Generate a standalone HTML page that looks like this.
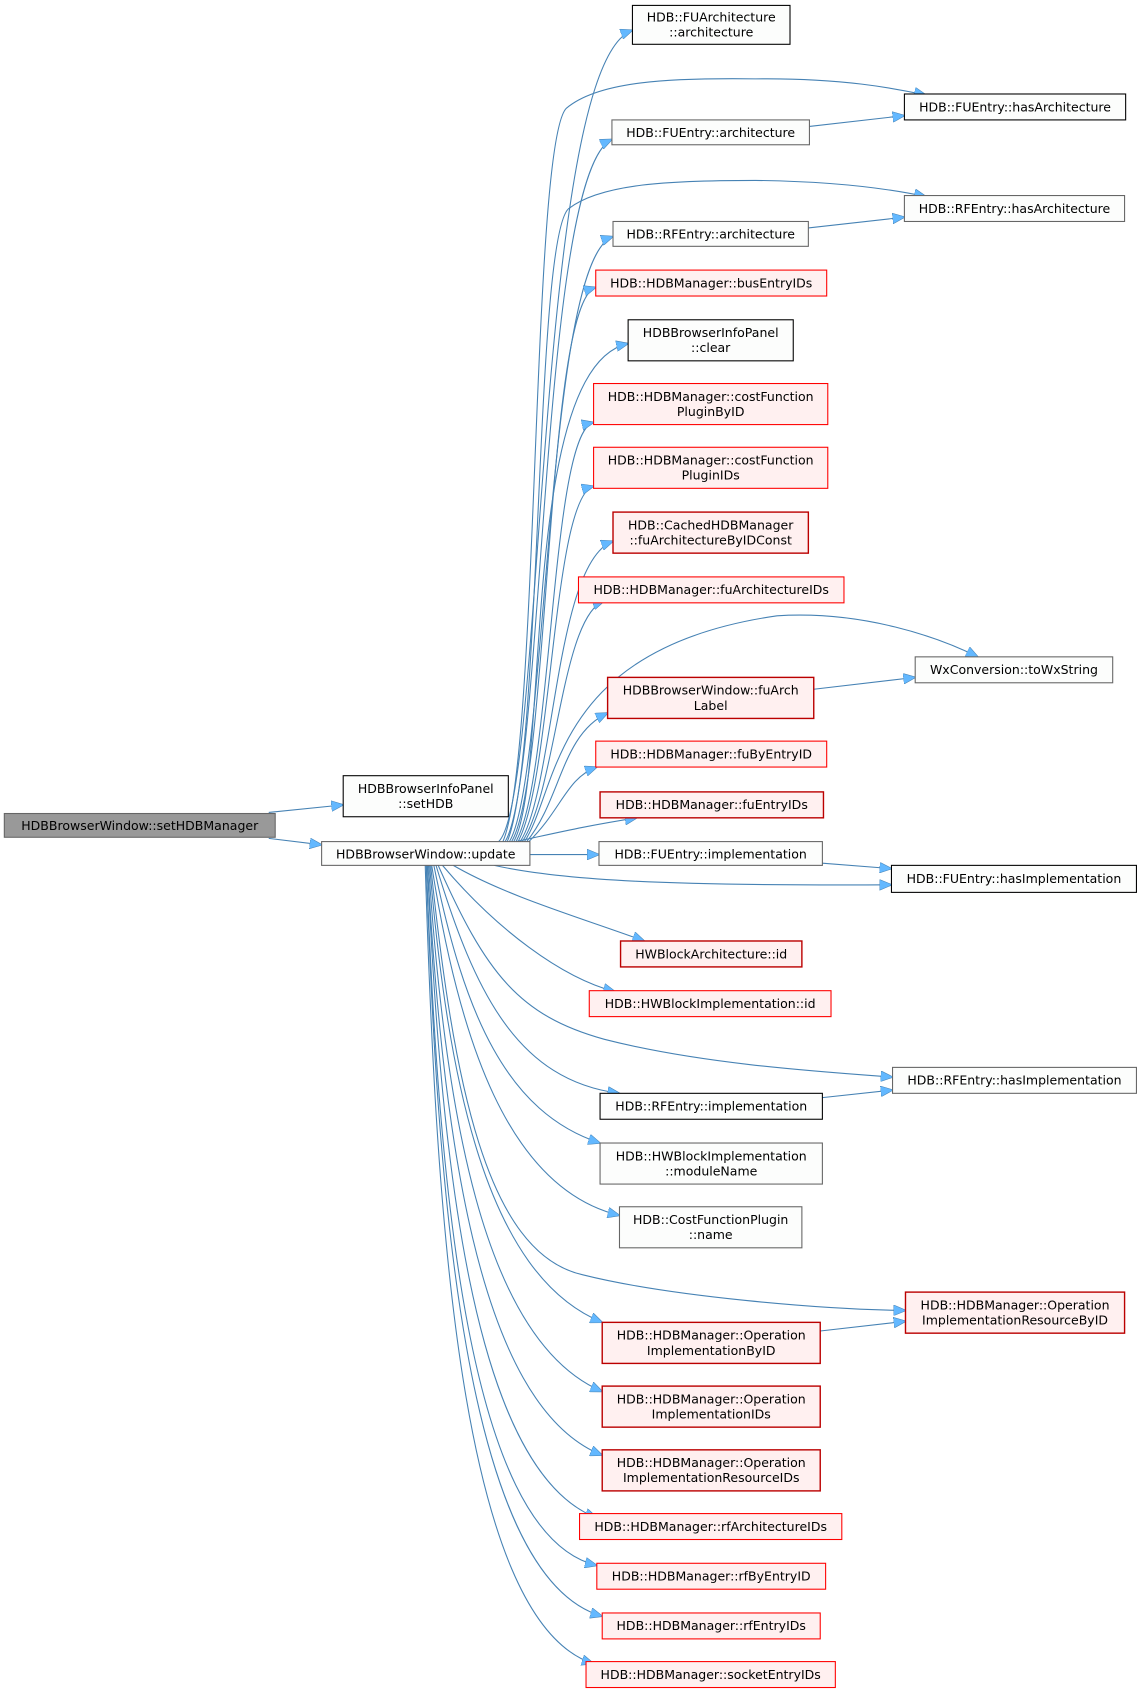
<!DOCTYPE html>
<html><head><meta charset="utf-8"><style>
html,body{margin:0;padding:0;background:#fff;}
svg{display:block;}
text{font-family:"DejaVu Sans","Liberation Sans",sans-serif;font-size:11.6px;fill:#000;}
.e{fill:none;stroke:#4682b4;stroke-width:1;}
.n{fill:#fcfdfc;stroke:#666;stroke-width:1;}
.b{fill:#fcfdfc;stroke:#000;stroke-width:1;}
.r{fill:#fff0f0;stroke:#f00;stroke-width:1;}
.dr{fill:#fff0f0;stroke:#b00;stroke-width:1.3;}
</style></head><body>
<svg width="1144" height="1694" viewBox="0 0 1060 1568" preserveAspectRatio="none" xmlns="http://www.w3.org/2000/svg">
<defs><marker id="a" markerWidth="12" markerHeight="10" refX="11" refY="5" orient="auto" markerUnits="userSpaceOnUse"><path d="M0,0 L12,5 L0,10 z" fill="#63b8ff" stroke="#4682b4" stroke-width="0.5"/></marker></defs>
<g marker-end="url(#a)">
<path class="e" d="M249,752 L318,745"/>
<path class="e" d="M249,776 L298,782"/>
<!-- upper edges from update -->
<path class="e" d="M462,779 C505,740 495,60 586,28"/>
<path class="e" d="M466,779 C500,700 492,130 525,100 C555,75 620,72 700,73 C780,72 830,82 858,88"/>
<path class="e" d="M468,779 C505,720 500,160 567,129"/>
<path class="e" d="M470,779 C503,700 495,220 527,193 C557,170 620,167 700,167 C780,168 830,176 858,182"/>
<path class="e" d="M472,779 C508,720 505,240 568,219"/>
<path class="e" d="M474,779 C510,720 505,280 552,266"/>
<path class="e" d="M476,779 C510,720 480,340 582,318"/>
<path class="e" d="M478,779 C512,720 510,400 550,391"/>
<path class="e" d="M480,779 C512,720 512,460 550,450"/>
<path class="e" d="M482,779 C514,730 514,520 568,501"/>
<path class="e" d="M484,779 C516,730 520,570 560,556"/>
<path class="e" d="M486,779 C518,730 510,600 720,570 C800,565 870,590 906,608"/>
<path class="e" d="M488,779 C520,740 520,680 563,660"/>
<path class="e" d="M490,779 C520,750 525,720 553,710"/>
<path class="e" d="M478,779 C520,770 540,765 590,757"/>
<path class="e" d="M491,791 L555,791"/>
<path class="e" d="M458,801 C520,815 620,820 826,819"/>
<!-- lower edges from update -->
<path class="e" d="M420,801 C470,830 540,850 597,871"/>
<path class="e" d="M410,801 C460,860 520,905 570,918"/>
<path class="e" d="M406,801 C450,900 480,940 560,962 C650,985 760,992 827,997"/>
<path class="e" d="M404,801 C440,920 480,1000 574,1012"/>
<path class="e" d="M402,801 C430,940 470,1030 556,1058"/>
<path class="e" d="M400,801 C425,960 470,1100 574,1125"/>
<path class="e" d="M399,801 C420,1000 450,1160 540,1180 C620,1200 760,1212 839,1213"/>
<path class="e" d="M398,801 C415,1000 450,1180 558,1224"/>
<path class="e" d="M397,801 C412,1020 445,1240 558,1288"/>
<path class="e" d="M396,801 C410,1040 440,1300 558,1347"/>
<path class="e" d="M396,801 C408,1060 435,1360 553,1405"/>
<path class="e" d="M395,801 C406,1080 430,1420 553,1449"/>
<path class="e" d="M395,801 C405,1100 430,1460 558,1496"/>
<path class="e" d="M394,801 C404,1120 425,1500 550,1540"/>
<!-- secondary -->
<path class="e" d="M750,117 L838,107"/>
<path class="e" d="M749,211 L838,201"/>
<path class="e" d="M754,638 L848,627"/>
<path class="e" d="M762,799 L826,804"/>
<path class="e" d="M762,1016 L827,1009"/>
<path class="e" d="M760,1232 L839,1223"/>
</g>
<!-- nodes -->
<rect x="4" y="753" width="251" height="22" fill="#999" stroke="#666"/><text x="129.5" y="768.5" text-anchor="middle">HDBBrowserWindow::setHDBManager</text>
<rect class="b" x="318" y="718" width="153" height="38"/><text x="394.5" y="734" text-anchor="middle">HDBBrowserInfoPanel</text><text x="394.5" y="748" text-anchor="middle">::setHDB</text>
<rect class="n" x="298" y="779" width="193" height="22"/><text x="394.5" y="794.5" text-anchor="middle">HDBBrowserWindow::update</text>

<rect class="b" x="586" y="5" width="146" height="36"/><text x="659" y="20" text-anchor="middle">HDB::FUArchitecture</text><text x="659" y="34" text-anchor="middle">::architecture</text>
<rect class="b" x="838" y="87" width="205" height="24"/><text x="940.5" y="103" text-anchor="middle">HDB::FUEntry::hasArchitecture</text>
<rect class="n" x="567" y="111" width="183" height="23"/><text x="658.5" y="127" text-anchor="middle">HDB::FUEntry::architecture</text>
<rect class="n" x="838" y="181" width="204" height="24"/><text x="940" y="197" text-anchor="middle">HDB::RFEntry::hasArchitecture</text>
<rect class="n" x="568" y="205" width="181" height="23"/><text x="658.5" y="221" text-anchor="middle">HDB::RFEntry::architecture</text>
<rect class="r" x="552" y="250" width="214" height="24"/><text x="659" y="266" text-anchor="middle">HDB::HDBManager::busEntryIDs</text>
<rect class="b" x="582" y="296" width="153" height="38"/><text x="658.5" y="312" text-anchor="middle">HDBBrowserInfoPanel</text><text x="658.5" y="326" text-anchor="middle">::clear</text>
<rect class="r" x="550" y="355" width="217" height="38"/><text x="658.5" y="371" text-anchor="middle">HDB::HDBManager::costFunction</text><text x="658.5" y="385" text-anchor="middle">PluginByID</text>
<rect class="r" x="550" y="414" width="217" height="38"/><text x="658.5" y="430" text-anchor="middle">HDB::HDBManager::costFunction</text><text x="658.5" y="444" text-anchor="middle">PluginIDs</text>
<rect class="dr" x="568" y="474" width="181" height="38"/><text x="658.5" y="490" text-anchor="middle">HDB::CachedHDBManager</text><text x="658.5" y="504" text-anchor="middle">::fuArchitectureByIDConst</text>
<rect class="r" x="536" y="534" width="246" height="24"/><text x="659" y="550" text-anchor="middle">HDB::HDBManager::fuArchitectureIDs</text>
<rect class="n" x="848" y="608" width="183" height="24"/><text x="939.5" y="624" text-anchor="middle">WxConversion::toWxString</text>
<rect class="dr" x="563" y="627" width="191" height="38"/><text x="658.5" y="643" text-anchor="middle">HDBBrowserWindow::fuArch</text><text x="658.5" y="657" text-anchor="middle">Label</text>
<rect class="r" x="552" y="686" width="214" height="24"/><text x="659" y="702" text-anchor="middle">HDB::HDBManager::fuByEntryID</text>
<rect class="dr" x="556" y="733" width="207" height="24"/><text x="659.5" y="749" text-anchor="middle">HDB::HDBManager::fuEntryIDs</text>
<rect class="n" x="555" y="779" width="207" height="22"/><text x="658.5" y="794.5" text-anchor="middle">HDB::FUEntry::implementation</text>
<rect class="b" x="826" y="801" width="227" height="25"/><text x="939.5" y="817.5" text-anchor="middle">HDB::FUEntry::hasImplementation</text>
<rect class="dr" x="575" y="871" width="168" height="24"/><text x="659" y="887" text-anchor="middle">HWBlockArchitecture::id</text>
<rect class="r" x="546" y="917" width="224" height="24"/><text x="658" y="933" text-anchor="middle">HDB::HWBlockImplementation::id</text>
<rect class="n" x="827" y="988" width="226" height="24"/><text x="940" y="1004" text-anchor="middle">HDB::RFEntry::hasImplementation</text>
<rect class="b" x="556" y="1012" width="206" height="24"/><text x="659" y="1028" text-anchor="middle">HDB::RFEntry::implementation</text>
<rect class="n" x="556" y="1058" width="206" height="38"/><text x="659" y="1074" text-anchor="middle">HDB::HWBlockImplementation</text><text x="659" y="1088" text-anchor="middle">::moduleName</text>
<rect class="n" x="574" y="1117" width="169" height="38"/><text x="658.5" y="1133" text-anchor="middle">HDB::CostFunctionPlugin</text><text x="658.5" y="1147" text-anchor="middle">::name</text>
<rect class="dr" x="839" y="1196" width="203" height="38"/><text x="940.5" y="1212" text-anchor="middle">HDB::HDBManager::Operation</text><text x="940.5" y="1226" text-anchor="middle">ImplementationResourceByID</text>
<rect class="dr" x="558" y="1224" width="202" height="38"/><text x="659" y="1240" text-anchor="middle">HDB::HDBManager::Operation</text><text x="659" y="1254" text-anchor="middle">ImplementationByID</text>
<rect class="dr" x="558" y="1283" width="202" height="38"/><text x="659" y="1299" text-anchor="middle">HDB::HDBManager::Operation</text><text x="659" y="1313" text-anchor="middle">ImplementationIDs</text>
<rect class="dr" x="558" y="1342" width="202" height="38"/><text x="659" y="1358" text-anchor="middle">HDB::HDBManager::Operation</text><text x="659" y="1372" text-anchor="middle">ImplementationResourceIDs</text>
<rect class="r" x="537" y="1401" width="243" height="24"/><text x="658.5" y="1417" text-anchor="middle">HDB::HDBManager::rfArchitectureIDs</text>
<rect class="r" x="553" y="1447" width="212" height="24"/><text x="659" y="1463" text-anchor="middle">HDB::HDBManager::rfByEntryID</text>
<rect class="r" x="558" y="1493" width="202" height="24"/><text x="659" y="1509" text-anchor="middle">HDB::HDBManager::rfEntryIDs</text>
<rect class="r" x="543" y="1538" width="231" height="24"/><text x="658.5" y="1554" text-anchor="middle">HDB::HDBManager::socketEntryIDs</text>
</svg>
</body></html>
